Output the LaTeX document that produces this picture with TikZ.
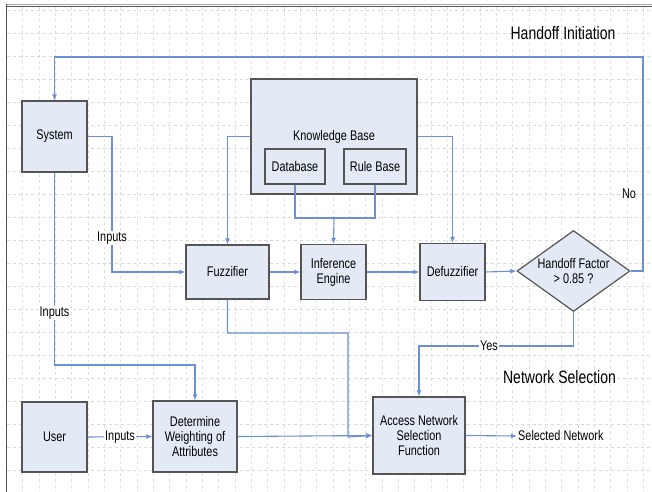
\documentclass[tikz,border=0pt]{standalone}
\usepackage{fontspec}
\setmainfont[FakeStretch=0.78]{Liberation Sans}
\usetikzlibrary{arrows.meta,shapes.geometric}
\definecolor{boxfill}{HTML}{E3E9F5}
\definecolor{boxline}{HTML}{555555}
\definecolor{wire}{HTML}{6B8FD9}
\begin{document}
\begin{tikzpicture}[x=1bp, y=-1bp,
    box/.style={draw=boxline, fill=boxfill, line width=1.2bp, inner sep=2bp, align=center, font=\fontsize{14}{15}\selectfont},
    wirelabel/.style={fill=white, inner sep=1bp, font=\fontsize{14}{15}\selectfont},
    heading/.style={font=\fontsize{18}{19}\selectfont},
    link/.style={draw=wire, line width=1.1bp},
    arr/.style={link, -{Latex[length=6bp,width=5bp]}}]
        \useasboundingbox (0,0) rectangle (652,492);
        \fill[white] (0,0) rectangle (652,492);
        \foreach \k in {1,...,39}
            \draw[gray!25, dashed, line width=0.6bp] ({6.3+16.33*\k},7) -- ({6.3+16.33*\k},492);
        \foreach \k in {0,...,21}
            \draw[gray!30, dashed, line width=0.6bp] (7,{10+23*\k}) -- (652,{10+23*\k});
        \draw[gray!70, line width=0.8bp] (6.5,4.5) -- (652,4.5);
        \draw[boxline, line width=1bp] (6.5,7) -- (652,7);
        \draw[boxline, line width=1.2bp] (6.5,4.5) -- (6.5,492);

        \node[heading] (init) at (563,33) {Handoff Initiation};
        \node[heading] (netsel) at (559.5,377) {Network Selection};

        \node[box, minimum width=65bp, minimum height=71bp] (system) at (54.5,136.5) {System};
        \node[box, minimum width=65bp, minimum height=70bp] (user) at (54.5,437) {User};
        \node[box, minimum width=166bp, minimum height=115bp] (kb) at (334,136.5) {Knowledge Base};
        \node[box, minimum width=60bp, minimum height=35bp] (db) at (295,166.5) {Database};
        \node[box, minimum width=62bp, minimum height=35bp] (rb) at (375,166.5) {Rule Base};
        \node[box, minimum width=83bp, minimum height=54bp] (fuzz) at (227.5,272) {Fuzzifier};
        \node[box, minimum width=65bp, minimum height=55bp] (inf) at (333.5,272) {Inference\\Engine};
        \node[box, minimum width=65bp, minimum height=57bp] (defuzz) at (452.5,272) {Defuzzifier};
        \node[diamond, draw=boxline, fill=boxfill, line width=1.2bp, aspect=1.4, minimum width=113bp, minimum height=81bp, inner sep=0pt, align=center, font=\fontsize{14}{15}\selectfont] (hf) at (573.5,271) {Handoff Factor\\> 0.85 ?};
        \node[box, minimum width=84bp, minimum height=71bp] (weight) at (195,436.5) {Determine\\Weighting of\\Attributes};
        \node[box, minimum width=92bp, minimum height=77bp] (access) at (419,435.5) {Access Network\\Selection\\Function};
        \node[anchor=west, font=\fontsize{14}{15}\selectfont, inner sep=1bp] (selnet) at (517,436) {Selected Network};

        \coordinate (merge) at (334,218);

        \draw[arr] (hf.east) -- (643,271) -- (643,57) -- (54.5,57) -- (system.north);
        \node[font=\fontsize{14}{15}\selectfont] (no) at (629,194) {No};
        \draw[arr] (system.east) -- (112,136.5) -- (112,272) -- (fuzz.west);
        \node[wirelabel] (in1) at (112,238) {Inputs};
        \draw[arr] (system.south) -- (54.5,365) -| (weight.north);
        \node[wirelabel] (in2) at (54.5,313) {Inputs};
        \draw[arr] (user.east) -- (weight.west);
        \node[wirelabel] (in3) at (120,437) {Inputs};
        \draw[arr] (kb.west) -| (fuzz.north);
        \draw[arr] (kb.east) -| (defuzz.north);
        \draw[link] (db.south) |- (merge);
        \draw[link] (rb.south) |- (merge);
        \draw[arr] (merge) -- (inf.north);
        \draw[arr] (fuzz.east) -- (inf.west);
        \draw[arr] (inf.east) -- (defuzz.west);
        \draw[arr] (defuzz.east) -- (hf.west);
        \draw[arr] (hf.south) -- (573.5,346) -| (access.north);
        \node[wirelabel] (yes) at (489,346) {Yes};
        \draw[arr] (fuzz.south) -- (227.5,333) -- (348,333) -- (348,437) -- (access.west);
        \draw[arr] (weight.east) -- (access.west);
        \draw[arr] (access.east) -- (selnet.west);
\end{tikzpicture}
\end{document}
